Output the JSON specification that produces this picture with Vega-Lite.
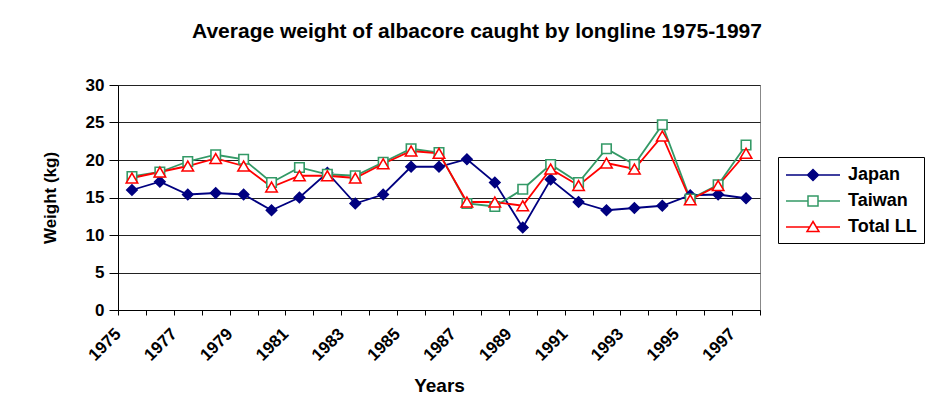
{
  "$schema": "https://vega.github.io/schema/vega-lite/v6.json",
  "autosize": "none",
  "width": 642,
  "height": 225,
  "padding": {"left": 118, "top": 85, "right": 172, "bottom": 99},
  "background": "#ffffff",
  "title": {
    "text": "Average weight of albacore caught by longline 1975-1997",
    "font": "Liberation Sans",
    "fontSize": 21,
    "fontWeight": "bold",
    "color": "#000000",
    "anchor": "middle",
    "dx": 38,
    "offset": 34
  },
  "config": {
    "view": {"stroke": "#888888", "strokeWidth": 1},
    "font": "Liberation Sans"
  },
  "data": {
    "values": [
      {"year": 1975, "series": "Japan", "weight": 16.0},
      {"year": 1976, "series": "Japan", "weight": 17.1},
      {"year": 1977, "series": "Japan", "weight": 15.4},
      {"year": 1978, "series": "Japan", "weight": 15.6},
      {"year": 1979, "series": "Japan", "weight": 15.4},
      {"year": 1980, "series": "Japan", "weight": 13.3},
      {"year": 1981, "series": "Japan", "weight": 15.0},
      {"year": 1982, "series": "Japan", "weight": 18.3},
      {"year": 1983, "series": "Japan", "weight": 14.2},
      {"year": 1984, "series": "Japan", "weight": 15.4},
      {"year": 1985, "series": "Japan", "weight": 19.1},
      {"year": 1986, "series": "Japan", "weight": 19.1},
      {"year": 1987, "series": "Japan", "weight": 20.1},
      {"year": 1988, "series": "Japan", "weight": 17.0},
      {"year": 1989, "series": "Japan", "weight": 11.0},
      {"year": 1990, "series": "Japan", "weight": 17.4},
      {"year": 1991, "series": "Japan", "weight": 14.4},
      {"year": 1992, "series": "Japan", "weight": 13.3},
      {"year": 1993, "series": "Japan", "weight": 13.6},
      {"year": 1994, "series": "Japan", "weight": 13.9},
      {"year": 1995, "series": "Japan", "weight": 15.3},
      {"year": 1996, "series": "Japan", "weight": 15.4},
      {"year": 1997, "series": "Japan", "weight": 14.9},
      {"year": 1975, "series": "Taiwan", "weight": 17.8},
      {"year": 1976, "series": "Taiwan", "weight": 18.4},
      {"year": 1977, "series": "Taiwan", "weight": 19.8},
      {"year": 1978, "series": "Taiwan", "weight": 20.7},
      {"year": 1979, "series": "Taiwan", "weight": 20.1},
      {"year": 1980, "series": "Taiwan", "weight": 17.0},
      {"year": 1981, "series": "Taiwan", "weight": 19.0},
      {"year": 1982, "series": "Taiwan", "weight": 18.1},
      {"year": 1983, "series": "Taiwan", "weight": 17.9},
      {"year": 1984, "series": "Taiwan", "weight": 19.7},
      {"year": 1985, "series": "Taiwan", "weight": 21.5},
      {"year": 1986, "series": "Taiwan", "weight": 21.0},
      {"year": 1987, "series": "Taiwan", "weight": 14.2},
      {"year": 1988, "series": "Taiwan", "weight": 13.8},
      {"year": 1989, "series": "Taiwan", "weight": 16.1},
      {"year": 1990, "series": "Taiwan", "weight": 19.4},
      {"year": 1991, "series": "Taiwan", "weight": 17.0},
      {"year": 1992, "series": "Taiwan", "weight": 21.5},
      {"year": 1993, "series": "Taiwan", "weight": 19.4},
      {"year": 1994, "series": "Taiwan", "weight": 24.7},
      {"year": 1995, "series": "Taiwan", "weight": 14.8},
      {"year": 1996, "series": "Taiwan", "weight": 16.7},
      {"year": 1997, "series": "Taiwan", "weight": 22.0},
      {"year": 1975, "series": "Total LL", "weight": 17.6},
      {"year": 1976, "series": "Total LL", "weight": 18.4},
      {"year": 1977, "series": "Total LL", "weight": 19.2},
      {"year": 1978, "series": "Total LL", "weight": 20.2},
      {"year": 1979, "series": "Total LL", "weight": 19.2},
      {"year": 1980, "series": "Total LL", "weight": 16.4},
      {"year": 1981, "series": "Total LL", "weight": 17.9},
      {"year": 1982, "series": "Total LL", "weight": 17.9},
      {"year": 1983, "series": "Total LL", "weight": 17.6},
      {"year": 1984, "series": "Total LL", "weight": 19.5},
      {"year": 1985, "series": "Total LL", "weight": 21.2},
      {"year": 1986, "series": "Total LL", "weight": 20.9},
      {"year": 1987, "series": "Total LL", "weight": 14.4},
      {"year": 1988, "series": "Total LL", "weight": 14.4},
      {"year": 1989, "series": "Total LL", "weight": 13.9},
      {"year": 1990, "series": "Total LL", "weight": 18.8},
      {"year": 1991, "series": "Total LL", "weight": 16.6},
      {"year": 1992, "series": "Total LL", "weight": 19.6},
      {"year": 1993, "series": "Total LL", "weight": 18.8},
      {"year": 1994, "series": "Total LL", "weight": 23.2},
      {"year": 1995, "series": "Total LL", "weight": 14.7},
      {"year": 1996, "series": "Total LL", "weight": 16.6},
      {"year": 1997, "series": "Total LL", "weight": 20.9}
    ]
  },
  "encoding": {
    "x": {
      "field": "year",
      "type": "ordinal",
      "scale": {"type": "band", "paddingInner": 0, "paddingOuter": 0},
      "axis": {
        "title": "Years",
        "titleFont": "Liberation Sans",
        "titleFontSize": 19,
        "titleFontWeight": "bold",
        "titleColor": "#000000",
        "titlePadding": 13,
        "tickBand": "extent",
        "labelAngle": -45,
        "labelAlign": "right",
        "labelBaseline": "middle",
        "labelOffset": -14,
        "labelExpr": "datum.value % 2 == 1 ? datum.label : ''",
        "labelOverlap": false,
        "labelFont": "Liberation Sans",
        "labelFontSize": 17,
        "labelFontWeight": "bold",
        "labelColor": "#000000",
        "labelPadding": 16,
        "tickSize": 5,
        "tickColor": "#000000",
        "domainColor": "#000000",
        "grid": false
      }
    },
    "y": {
      "field": "weight",
      "type": "quantitative",
      "scale": {"domain": [0, 30], "nice": false},
      "axis": {
        "title": "Weight (kg)",
        "titleFont": "Liberation Sans",
        "titleFontSize": 17,
        "titleFontWeight": "bold",
        "titleColor": "#000000",
        "titlePadding": 26,
        "values": [0, 5, 10, 15, 20, 25, 30],
        "labelFont": "Liberation Sans",
        "labelFontSize": 17,
        "labelFontWeight": "bold",
        "labelColor": "#000000",
        "labelPadding": 5,
        "tickSize": 9,
        "tickColor": "#000000",
        "domainColor": "#000000",
        "grid": true,
        "gridColor": "#222222",
        "gridWidth": 1
      }
    }
  },
  "layer": [
    {
      "mark": {"type": "line", "strokeWidth": 1.8},
      "encoding": {
        "color": {
          "field": "series",
          "type": "nominal",
          "scale": {"domain": ["Japan", "Taiwan", "Total LL"], "range": ["#000080", "#339966", "#ff0000"]},
          "legend": {
            "title": null,
            "orient": "none",
            "legendX": 660,
            "legendY": 72,
            "padding": 7,
            "strokeColor": "#000000",
            "fillColor": "#ffffff",
            "labelFont": "Liberation Sans",
            "labelFontSize": 18,
            "labelFontWeight": "bold",
            "labelColor": "#000000",
            "symbolSize": 400,
            "symbolOffset": 17,
            "labelOffset": 24,
            "rowPadding": 6,
            "encode": {
              "symbols": {
                "update": {
                  "shape": {"signal": "datum.value == 'Japan' ? 'M-2.7,0H2.7M0,-0.55L0.55,0L0,0.55L-0.55,0Z' : datum.value == 'Taiwan' ? 'M-2.7,0H-0.5M0.5,0H2.7M-0.5,-0.5H0.5V0.5H-0.5Z' : 'M-2.7,0H-0.33M0.33,0H2.7M0,-0.55L0.6,0.45L-0.6,0.45Z'"},
                  "fill": {"signal": "datum.value == 'Japan' ? '#000080' : '#ffffff'"},
                  "size": {"value": 400},
                  "strokeWidth": {"value": 1.5},
                  "opacity": {"value": 1}
                }
              }
            }
          }
        }
      }
    },
    {
      "transform": [{"filter": "datum.series == 'Japan'"}],
      "mark": {"type": "point", "shape": "diamond", "filled": false, "fill": "#000080", "stroke": "#000080", "opacity": 1, "fillOpacity": 1, "strokeWidth": 1.5, "size": 110}
    },
    {
      "transform": [{"filter": "datum.series == 'Taiwan'"}],
      "mark": {"type": "point", "shape": "square", "filled": false, "fill": "#ffffff", "stroke": "#339966", "opacity": 1, "fillOpacity": 1, "strokeWidth": 1.6, "size": 90}
    },
    {
      "transform": [{"filter": "datum.series == 'Total LL'"}],
      "mark": {"type": "point", "shape": "triangle-up", "filled": false, "fill": "#ffffff", "stroke": "#ff0000", "opacity": 1, "fillOpacity": 1, "strokeWidth": 1.6, "size": 130}
    }
  ]
}
